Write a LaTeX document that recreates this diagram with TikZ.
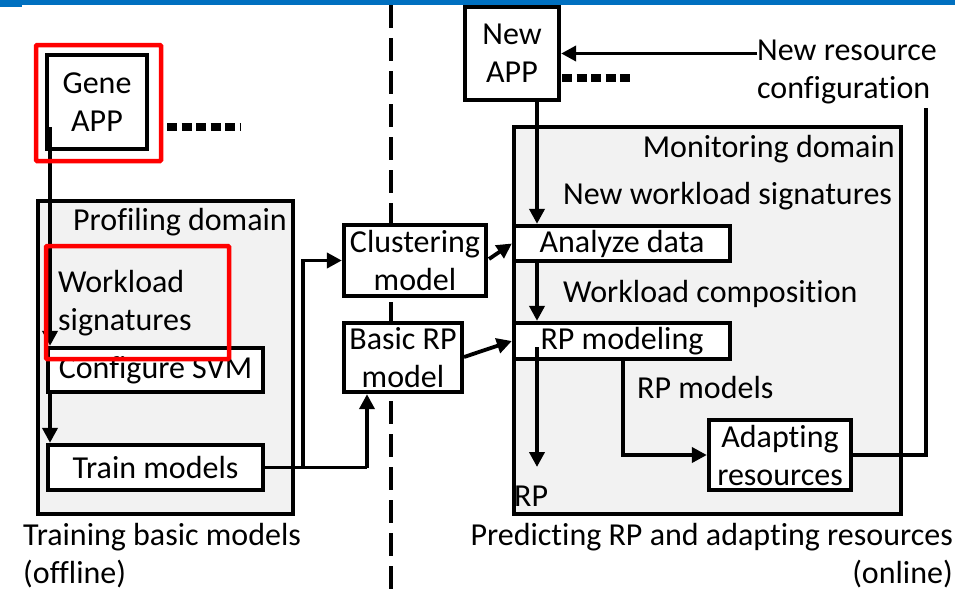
\documentclass[tikz,border=0pt]{standalone}
\usepackage{fontspec}
\setmainfont{Carlito}[Ligatures=NoCommon]
\usetikzlibrary{arrows.meta}
\definecolor{barblue}{HTML}{0070C0}
\definecolor{domgray}{HTML}{F2F2F2}
\definecolor{hlred}{HTML}{FF0000}
\newcommand{\diagfont}{\fontsize{32pt}{38pt}\selectfont}
\begin{document}
\begin{tikzpicture}[x=1pt,y=-1pt,
  box/.style={draw, line width=4.3pt, fill=white, inner sep=0pt, align=center, font=\diagfont},
  dom/.style={draw, line width=4.3pt, fill=domgray, inner sep=0pt},
  lbl/.style={inner sep=0pt, font=\diagfont},
  ln/.style={line width=3.8pt},
  arr/.style={line width=3.8pt, -{Triangle[length=15pt,width=15pt]}},
  dotline/.style={line width=7.5pt, dash pattern=on 10pt off 4.5pt},
  divider/.style={line width=3.5pt, dash pattern=on 23pt off 10pt},
  hl/.style={draw=hlred, line width=4.5pt, rounded corners=1pt}]
\useasboundingbox (0,0) rectangle (961,590);

% title bar
\fill[barblue] (0,0) rectangle (955,5);
\fill[barblue] (0,0) rectangle (22,6.5);

% offline / online divider
\draw[divider] (391,5) -- (391,590);

% domains
\node[dom, minimum width=255pt, minimum height=313pt] (prof) at (165.5,357.5) {};
\node[dom, minimum width=387pt, minimum height=387pt] (mon) at (707.5,320.5) {};

% offline side
\node[box, minimum width=100pt, minimum height=94pt] (gene) at (97,102) {Gene\\APP};
\node[lbl, anchor=base west] (proflbl) at (73,230) {Profiling domain};
\node[lbl, anchor=base west, align=left] (wsig) at (58,330) {Workload\\signatures};
\node[box, minimum width=215pt, minimum height=44pt] (svm) at (155.5,370) {Configure SVM};
\node[box, minimum width=215pt, minimum height=45pt] (train) at (155.5,467.5) {Train models};
\node[lbl, anchor=base west, align=left] (offl) at (23,583) {Training basic models\\(offline)};

% basic models
\node[box, minimum width=142pt, minimum height=71pt] (clust) at (415,260.5) {Clustering\\model};
\node[box, minimum width=118pt, minimum height=69pt] (basic) at (403,357.5) {Basic RP\\model};

% online side
\node[box, minimum width=94pt, minimum height=93pt] (newapp) at (512,53.5) {New\\APP};
\node[lbl, anchor=base west, align=left] (nrc) at (757,98) {New resource\\configuration};
\node[lbl, anchor=base east] (monlbl) at (895,157) {Monitoring domain};
\node[lbl, anchor=base west] (nws) at (563,204) {New workload signatures};
\node[box, minimum width=216pt, minimum height=35pt] (analyze) at (622,243.5) {Analyze data};
\node[lbl, anchor=base west] (wcomp) at (563,302) {Workload composition};
\node[box, minimum width=216pt, minimum height=36pt] (rpm) at (622,341) {RP modeling};
\node[lbl, anchor=base west] (rpmods) at (637,398) {RP models};
\node[box, minimum width=142pt, minimum height=70pt] (adapt) at (780,455) {Adapting\\resources};
\node[lbl, anchor=base west] (rp) at (514,506) {RP};
\node[lbl, anchor=base east, align=right] (onl) at (953,583) {Predicting RP and adapting resources\\(online)};

% offline flow
\coordinate (genesrc) at (50,127);
\draw[arr] (genesrc) -- (genesrc |- svm.north);
\draw[arr] (svm.south -| genesrc) -- (train.north -| genesrc);
\coordinate (split) at (303,0);
\coordinate (basicin) at (367,0);
\draw[ln] (train.east) -- (basicin |- train.east);
\draw[arr] (basicin |- train.east) -- (basicin |- basic.south);
\draw[arr] (split |- train.east) -- (split |- clust.west) -- (clust.west);
\draw[dotline] (167,127) -- (241,127);

% basic models into online side
\draw[arr] (489,259) -- (analyze.west);
\draw[arr] (464,357) -- (rpm.west);

% online flow
\coordinate (col) at (537,0);
\draw[arr] (col |- newapp.south) -- (col |- analyze.north);
\draw[arr] (col |- analyze.south) -- (col |- rpm.north);
\coordinate (rpsrc) at (537,347);
\coordinate (rpend) at (537,467);
\draw[arr] (rpsrc) -- (rpend);
\coordinate (rpmout) at (623,0);
\draw[arr] (rpmout |- rpm.south) -- (rpmout |- adapt.west) -- (adapt.west);
\coordinate (fbtop) at (926,108);
\draw[ln] (adapt.east) -- (fbtop |- adapt.east) -- (fbtop);
\draw[arr] (newapp.east -| nrc.west) -- (newapp.east);
\draw[dotline] (562,78) -- (634,78);

% highlights
\draw[hl] (36,45) rectangle (161,161);
\draw[hl] (46,246) rectangle (229,359);
\end{tikzpicture}
\end{document}
